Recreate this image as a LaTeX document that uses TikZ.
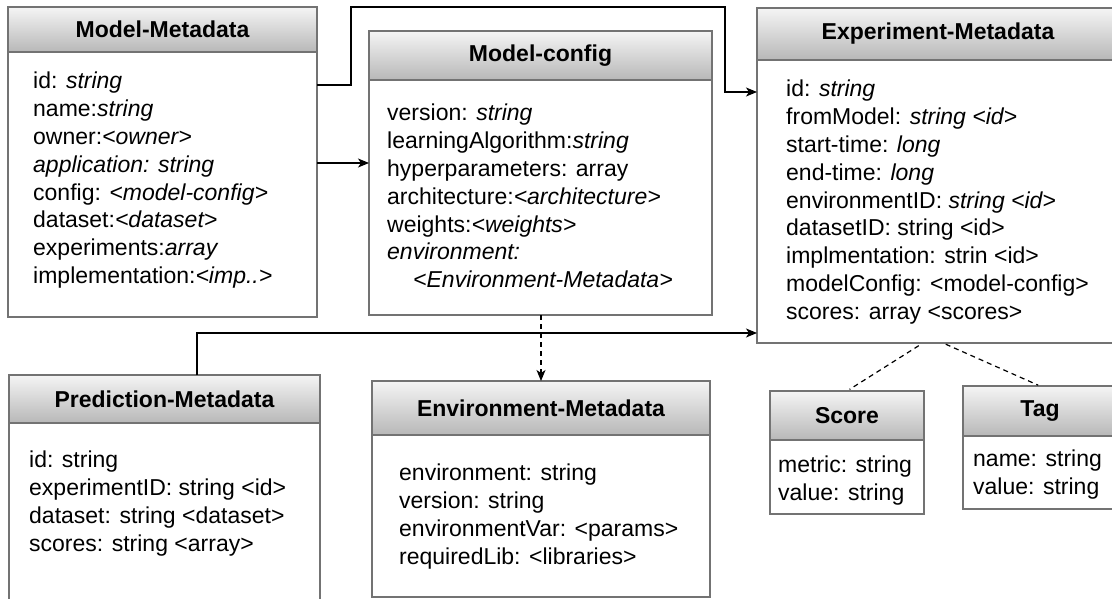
\documentclass[tikz,border=0pt]{standalone}
\usepackage{fontspec}
\setmainfont{Liberation Sans}
\usetikzlibrary{arrows.meta}
\newcommand\umlbox[7]{% name, x, y, w, header h, body h, title
  \node[hdr, minimum width=#4pt, minimum height=#5pt] (#1h) at (#2,#3) {#7};
  \node[bodybox, minimum width=#4pt, minimum height=#6pt] (#1b) at (#2,#3+#5) {};
}
\begin{document}
\begin{tikzpicture}[x=1pt,y=-1pt,
  hdr/.style={draw=black!55, line width=1.8pt, top color=black!4, bottom color=black!28,
    font=\fontsize{23}{27}\selectfont\bfseries, anchor=north west, inner sep=0pt, outer sep=0pt},
  bodybox/.style={draw=black!55, line width=1.8pt, fill=white, anchor=north west, inner sep=0pt, outer sep=0pt},
  txt/.style={font=\fontsize{23}{27.8}\selectfont, align=left, anchor=north west, inner sep=0pt},
  conn/.style={line width=1.3pt, -{Stealth[length=11pt,width=9pt,inset=3pt]}},
  dconn/.style={line width=1.2pt, dash pattern=on 5pt off 4pt}
]
\clip (0,0) rectangle (1112,599);
\useasboundingbox (0,0) rectangle (1112,599);

\umlbox{mm}{8}{7}{309}{45}{265}{Model-Metadata}
\umlbox{mc}{369}{31}{343}{49}{235}{Model-config}
\umlbox{ex}{757}{8}{362}{52}{283}{Experiment-Metadata}
\umlbox{pm}{9}{375}{311}{48}{240}{Prediction-Metadata}
\umlbox{em}{372}{381}{338}{54}{162}{Environment-Metadata}
\umlbox{sc}{770}{391}{154}{49}{74}{Score}
\umlbox{tg}{963}{386}{154}{50}{73}{Tag}

\node[txt] (mmt) at (33,72) {id: \textit{string}\\
name:\textit{string}\\
owner:\textit{<owner>}\\
\textit{application: string}\\
config: \textit{<model-config>}\\
dataset:\textit{<dataset>}\\
experiments:\textit{array}\\
implementation:\textit{<imp..>}};

\node[txt] (mct) at (387,104) {version: \textit{string}\\
learningAlgorithm:\textit{string}\\
hyperparameters: array\\
architecture:\textit{<architecture>}\\
weights:\textit{<weights>}\\
\textit{environment:}\\
\hspace*{26pt}\textit{<Environment-Metadata>}};

\node[txt] (ext) at (786,80) {id: \textit{string}\\
fromModel: \textit{string <id>}\\
start-time: \textit{long}\\
end-time: \textit{long}\\
environmentID: \textit{string <id>}\\
datasetID: string <id>\\
implmentation: strin <id>\\
modelConfig: <model-config>\\
scores: array <scores>};

\node[txt] (pmt) at (29,451) {id: string\\
experimentID: string <id>\\
dataset: string <dataset>\\
scores: string <array>};

\node[txt] (emt) at (399,464) {environment: string\\
version: string\\
environmentVar: <params>\\
requiredLib: <libraries>};

\node[txt] (sct) at (778,456) {metric: string\\
value: string};

\node[txt] (tgt) at (973,450) {name: string\\
value: string};

% connectors
\draw[conn] (mmb.east |- 0,85) -- (351,85) -- (351,7) -- (725,7) -- (725,92) -- (exb.west |- 0,92);
\draw[conn] (mmb.east |- 0,163) -- (mcb.west |- 0,163);
\draw[conn] (197,0 |- pmh.north) -- (197,333) -- (exb.west |- 0,333);
\draw[dconn, -{Stealth[length=11pt,width=9pt,inset=3pt]}] (541,0 |- mcb.south) -- (541,0 |- emh.north);
\draw[dconn, shorten <=5pt, shorten >=3pt] (923,0 |- exb.south) -- (sch.north);
\draw[dconn, shorten <=3pt, shorten >=2pt] (943,0 |- exb.south) -- (tgh.north);
\end{tikzpicture}
\end{document}
